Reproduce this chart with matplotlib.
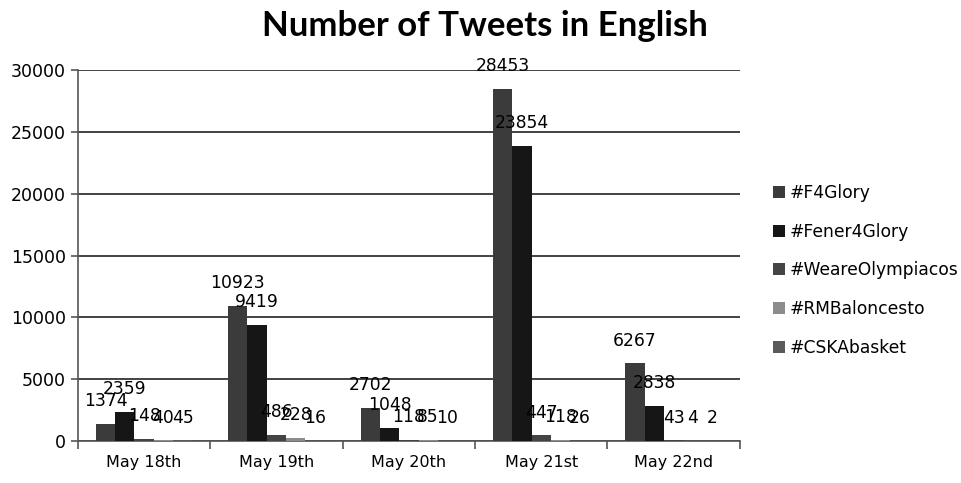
import numpy as np
import matplotlib
matplotlib.use("Agg")
import matplotlib.pyplot as plt

days = ["May 18th", "May 19th", "May 20th", "May 21st", "May 22nd"]
f4glory = [1374, 10923, 2702, 28453, 6267]
fener4glory = [2359, 9419, 1048, 23854, 2838]
weareolympiacos = [148, 486, 118, 447, 43]
rmbaloncesto = [40, 228, 85, 118, 4]
cskabasket = [45, 16, 10, 26, 2]

series = [
    ("#F4Glory", f4glory, "#3b3b3b"),
    ("#Fener4Glory", fener4glory, "#161616"),
    ("#WeareOlympiacos", weareolympiacos, "#444444"),
    ("#RMBaloncesto", rmbaloncesto, "#8c8c8c"),
    ("#CSKAbasket", cskabasket, "#5a5a5a"),
]

plt.rcParams["font.family"] = ["DejaVu Sans"]

fig = plt.figure(figsize=(9.62, 4.83), dpi=100)
ax = fig.add_axes([0.081, 0.087, 0.688, 0.768])

x = np.arange(len(days))
w = 0.146
for i, (name, vals, col) in enumerate(series):
    pos = x - 2 * w + i * w
    ax.bar(pos, vals, w, color=col, label=name, zorder=3)
    for px, v in zip(pos, vals):
        ax.annotate(str(v), (px, v), xytext=(0, 10), textcoords="offset points",
                    ha="center", va="bottom", fontsize=12.3, color="black", zorder=4)

ax.set_xlim(-0.5, len(days) - 0.5)
ax.set_ylim(0, 30000)
ax.set_yticks(np.arange(0, 30001, 5000))
ax.tick_params(axis="y", labelsize=12.5, length=5, width=1.2, color="#555555")
ax.set_xticks(x)
ax.set_xticklabels(days, fontsize=11.5)
ax.tick_params(axis="x", length=0, pad=10)
ax.set_xticks(np.arange(-0.5, len(days), 1), minor=True)
ax.tick_params(axis="x", which="minor", length=6, width=1.2, color="#555555")
ax.grid(axis="y", color="#222222", linewidth=1.2, zorder=0)
for s in ["top", "right"]:
    ax.spines[s].set_visible(False)
for s in ["left", "bottom"]:
    ax.spines[s].set_color("#555555")
    ax.spines[s].set_linewidth(1.2)

fig.text(0.504, 0.947, "Number of Tweets in English", ha="center", va="center",
         fontsize=25, fontweight="bold", family="Lato")

ax.legend(loc="center left", bbox_to_anchor=(1.016, 0.46), frameon=False,
          fontsize=12.3, handlelength=0.7, handleheight=0.7, labelspacing=1.21,
          handletextpad=0.3, borderaxespad=0.9)

fig.savefig("out.png", dpi=100)
